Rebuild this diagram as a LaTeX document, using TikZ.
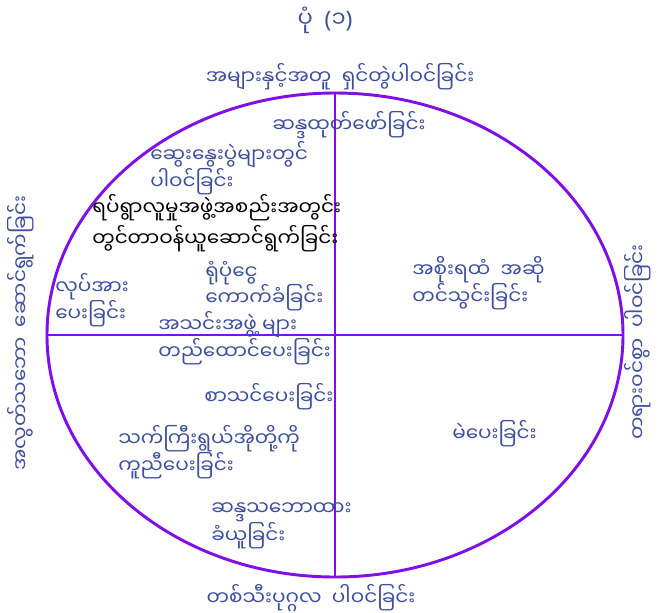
\documentclass[tikz,border=0pt]{standalone}
\usepackage{fontspec}
\newfontfamily\mmfont[Script=Myanmar]{Noto Sans Myanmar UI}
\newfontfamily\parfont{Noto Sans}
\usetikzlibrary{shapes.geometric}
\definecolor{axisviolet}{HTML}{7F0FE6}
\definecolor{labelblue}{HTML}{3C4E9C}
\newcommand{\bra}[1]{{\parfont(}#1{\parfont)}}
\begin{document}
\begin{tikzpicture}[x=0.75pt,y=-0.75pt,
  lbl/.style={text=labelblue,inner sep=0pt,align=left,anchor=west,
    font={\mmfont\fontsize{15}{20}\selectfont}},
  ring/.style={draw=axisviolet,line width=2.2pt,ellipse,inner sep=0pt,outer sep=0pt,
    minimum width=432pt,minimum height=363pt},
  axis/.style={draw=axisviolet,line width=2.2pt}]
\useasboundingbox (0,0) rectangle (666,612);
\node[ring] (oval) at (335,335) {};
\draw[axis] (oval.north) -- (oval.south);
\draw[axis] (oval.west) -- (oval.east);
% titles round the oval
\node[lbl,anchor=center,font={\mmfont\fontsize{17}{20}\selectfont}] (title) at (325,20) {ပုံ\ \ \bra{၁}};
\node[lbl,anchor=center] (top) at (340,77) {အများနှင့်အတူ\ \ ရှင်တွဲပါဝင်ခြင်း};
\node[lbl,anchor=center] (bottom) at (311,598) {တစ်သီးပုဂ္ဂလ\ \ ပါဝင်ခြင်း};
\node[lbl,anchor=center,rotate=90] (left) at (21,333) {အလွတ်သဘော\ \ ဆောင်ရွက်ခြင်း};
\node[lbl,anchor=center,rotate=90] (right) at (638,342) {တရားဝင်စွာ\ \ ပါဝင်ခြင်း};
% upper left
\node[lbl] (express) at (272,125) {ဆန္ဒထုတ်ဖော်ခြင်း};
\node[lbl] (debate) at (150,168) {ဆွေးနွေးပွဲများတွင်\\ပါဝင်ခြင်း};
\node[lbl,text=black,font={\mmfont\fontsize{15}{23}\selectfont}] (duty) at (92,223) {ရပ်ရွာလူမှုအဖွဲ့အစည်းအတွင်း\\တွင်တာဝန်ယူဆောင်ရွက်ခြင်း};
\node[lbl] (labour) at (55,300) {လုပ်အား\\ပေးခြင်း};
\node[lbl] (fund) at (205,286) {ရုံပုံငွေ\\ကောက်ခံခြင်း};
\node[lbl] (found) at (158,338) {အသင်းအဖွဲ့ များ\\တည်ထောင်ပေးခြင်း};
% upper right
\node[lbl] (petition) at (412,283) {အစိုးရထံ\ \ အဆို\\တင်သွင်းခြင်း};
% lower half
\node[lbl] (teach) at (204,397) {စာသင်ပေးခြင်း};
\node[lbl] (elders) at (118,452) {သက်ကြီးရွယ်အိုတို့ကို\\ကူညီပေးခြင်း};
\node[lbl] (vote) at (452,434) {မဲပေးခြင်း};
\node[lbl] (poll) at (211,526) {ဆန္ဒသဘောထား\\ခံယူခြင်း};
\end{tikzpicture}
\end{document}
